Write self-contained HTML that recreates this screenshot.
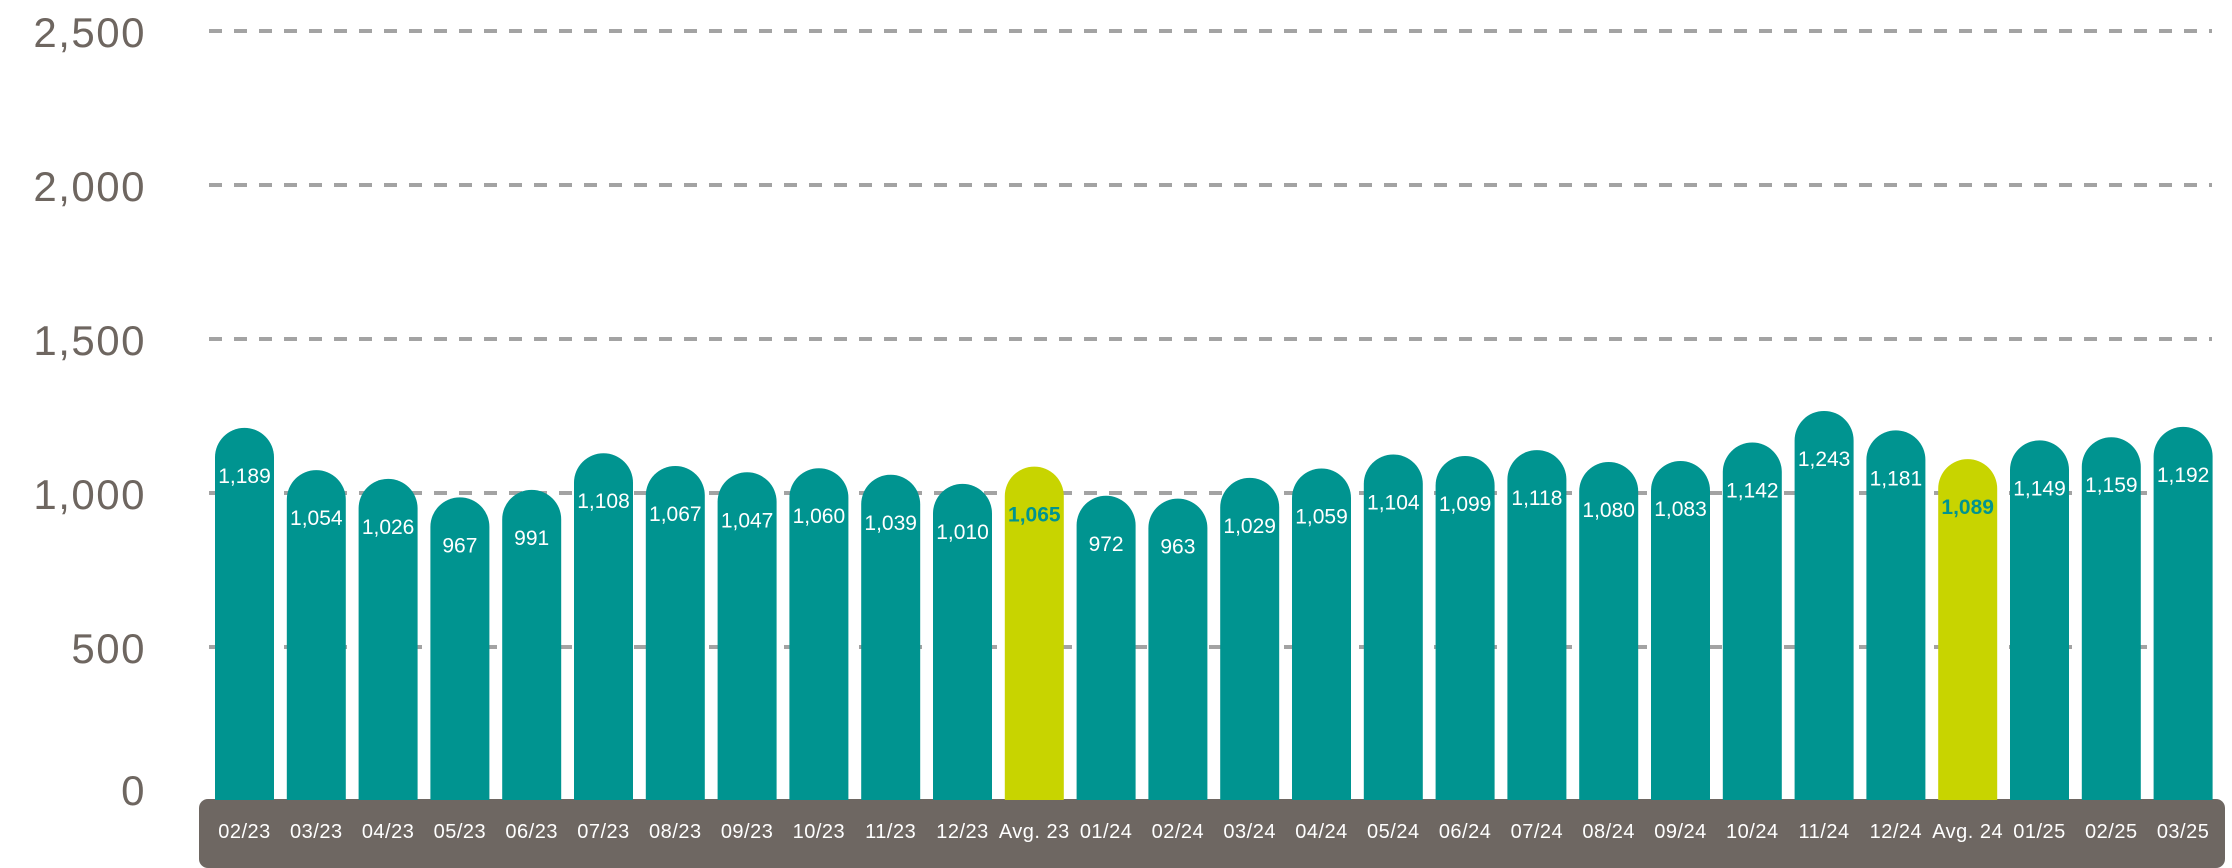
<!DOCTYPE html>
<html><head><meta charset="utf-8"><style>
html,body{margin:0;padding:0;background:#fff;}
svg{display:block;}
text{font-family:"Liberation Sans",sans-serif;}
</style></head><body>
<svg width="2232" height="868" viewBox="0 0 2232 868" xmlns="http://www.w3.org/2000/svg">
<g stroke="#a3a3a3" stroke-width="4" stroke-dasharray="13,12">
<line x1="209" y1="31" x2="2212" y2="31"/>
<line x1="209" y1="185" x2="2212" y2="185"/>
<line x1="209" y1="339" x2="2212" y2="339"/>
<line x1="209" y1="493" x2="2212" y2="493"/>
<line x1="209" y1="647" x2="2212" y2="647"/>
</g>
<g fill="#6e6660" font-size="42" text-anchor="end" letter-spacing="1.5">
<text x="146" y="47">2,500</text>
<text x="146" y="201">2,000</text>
<text x="146" y="355">1,500</text>
<text x="146" y="509">1,000</text>
<text x="146" y="663">500</text>
<text x="146" y="805">0</text>
</g>
<rect x="199" y="799" width="2026" height="69" rx="9" fill="#6e6762"/>
<g id="bars"></g>
</svg>
<script>
var d=[["02/23",1189],["03/23",1054],["04/23",1026],["05/23",967],["06/23",991],["07/23",1108],["08/23",1067],["09/23",1047],["10/23",1060],["11/23",1039],["12/23",1010],["Avg. 23",1065,1],["01/24",972],["02/24",963],["03/24",1029],["04/24",1059],["05/24",1104],["06/24",1099],["07/24",1118],["08/24",1080],["09/24",1083],["10/24",1142],["11/24",1243],["12/24",1181],["Avg. 24",1089,1],["01/25",1149],["02/25",1159],["03/25",1192]];
var s="";
d.forEach(function(e,i){
 var x=215+i*71.8,w=59,b=800,h=e[1]*0.313,t=b-h,r=w/2;
 var c=e[2]?"#c8d400":"#009490";
 s+='<path d="M'+x+' '+b+'V'+(t+r)+'A'+r+' '+r+' 0 0 1 '+(x+w)+' '+(t+r)+'V'+b+'Z" fill="'+c+'"/>';
 var v=e[1].toLocaleString("en-US");
 s+='<text x="'+(x+w/2)+'" y="'+(t+55)+'" text-anchor="middle" font-size="21" fill="'+(e[2]?"#009490":"#fff")+'"'+(e[2]?' font-weight="bold"':'')+'>'+v+'</text>';
 s+='<text x="'+(x+w/2)+'" y="838" text-anchor="middle" font-size="20" letter-spacing="0.5" fill="#fff">'+e[0]+'</text>';
});
document.getElementById("bars").innerHTML=s;
</script>
</body></html>
